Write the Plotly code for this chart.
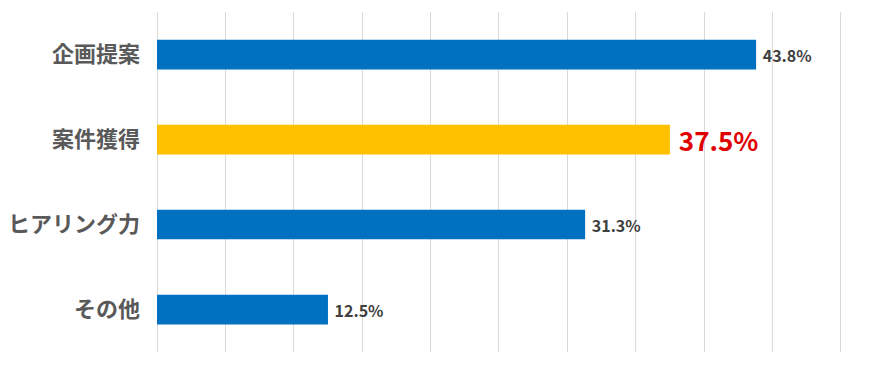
import plotly.graph_objects as go

categories = ["企画提案", "案件獲得", "ヒアリング力", "その他"]
values = [43.8, 37.5, 31.3, 12.5]
labels = ["43.8%", "37.5%", "31.3%", "12.5%"]
bar_colors = ["#0070C0", "#FFC000", "#0070C0", "#0070C0"]
label_colors = ["#404040", "#E00000", "#404040", "#404040"]
label_sizes = [16, 26, 16, 16]

FONT = "Noto Sans CJK JP"

fig = go.Figure(go.Bar(
    x=values, y=categories, orientation="h",
    marker=dict(color=bar_colors, line=dict(width=0)),
    width=0.35,
    text=labels, texttemplate="\u00a0%{text}",
    textposition="outside", cliponaxis=False, constraintext="none",
    textfont=dict(family=FONT, color=label_colors, size=label_sizes, weight="bold"),
))

# page body has an 8px default margin, so margins are shifted to compensate
fig.update_layout(
    width=878, height=367,
    margin=dict(l=149, r=41, t=4, b=23, autoexpand=False),
    paper_bgcolor="white", plot_bgcolor="white",
    showlegend=False,
    font=dict(family=FONT),
    xaxis=dict(range=[0, 50.3], dtick=5, showticklabels=False, showgrid=True,
               gridcolor="#D9D9D9", gridwidth=1, zeroline=True, zerolinecolor="#D9D9D9",
               zerolinewidth=1, showline=False),
    yaxis=dict(autorange="reversed", showgrid=False, zeroline=False, showline=False,
               ticks="", ticklabelstandoff=16,
               tickfont=dict(family=FONT, size=22, color="#595959", weight="bold")),
)

fig.write_html("out.html")
